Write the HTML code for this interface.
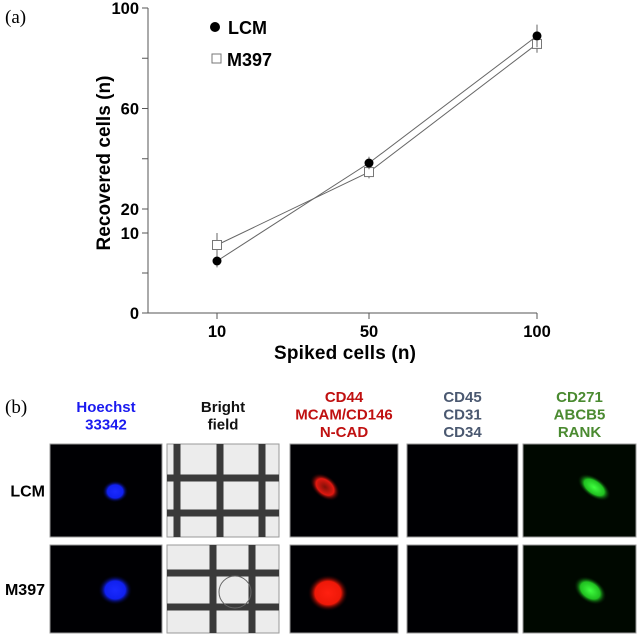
<!DOCTYPE html>
<html><head><meta charset="utf-8"><style>
body{margin:0;background:#fff;width:640px;height:636px;overflow:hidden}
svg{display:block}
.t{font-family:"Liberation Sans",sans-serif;font-weight:bold}
</style></head><body>
<svg id="fig" width="640" height="636" xmlns="http://www.w3.org/2000/svg">
<defs>
<radialGradient id="gb"><stop offset="0" stop-color="#1a2aff"/><stop offset="0.6" stop-color="#1020ee"/><stop offset="1" stop-color="#000010" stop-opacity="0"/></radialGradient>
<radialGradient id="gr"><stop offset="0" stop-color="#ff2010"/><stop offset="0.65" stop-color="#ee1808"/><stop offset="1" stop-color="#200000" stop-opacity="0"/></radialGradient>
<radialGradient id="gr2"><stop offset="0" stop-color="#801008"/><stop offset="0.6" stop-color="#e01810"/><stop offset="1" stop-color="#200000" stop-opacity="0"/></radialGradient>
<radialGradient id="gg"><stop offset="0" stop-color="#40ff40"/><stop offset="0.6" stop-color="#20c020"/><stop offset="1" stop-color="#001000" stop-opacity="0"/></radialGradient>
</defs>
<text x="5" y="23" font-family="Liberation Serif,serif" font-size="19">(a)</text>
<g id="chart"></g>
<text x="5" y="413" font-family="Liberation Serif,serif" font-size="19">(b)</text>
<g id="micro"></g>
</svg>
<script>
const categories=[10,50,100];
const lcmValues=[6.5,38.3,88.9];
const lcmErr=[0.8,2.5,4.5];
const m397Values=[8.5,34.7,85.7];
const m397Err=[1.5,2.5,3.5];
const yTickLabels=[0,10,20,60,100];
const yMinorTicks=[5,40,80];
const NS="http://www.w3.org/2000/svg";
const chart=document.getElementById('chart');
function mk(tag,attrs,parent){const e=document.createElementNS(NS,tag);for(const k in attrs)e.setAttribute(k,attrs[k]);(parent||chart).appendChild(e);return e;}
const xPos=[217,369,537];
function xScale(c){return xPos[categories.indexOf(c)];}
function yScale(v){if(v<=10)return 313-v*8;return 209-(v-20)*(201/80);}
const axis="#555";
let l=mk('line',{x1:148,y1:8,x2:148,y2:313,stroke:axis,'stroke-width':1});


l=mk('line',{x1:148,y1:313,x2:537,y2:313,stroke:axis,'stroke-width':1});


yTickLabels.forEach(v=>{const y=yScale(v);
 mk('line',{x1:142,y1:y,x2:148,y2:y,stroke:axis});
 const t=mk('text',{x:139,y:y+6,'text-anchor':'end','font-size':16.5,class:'t'});t.textContent=v;
 
 });
yMinorTicks.forEach(v=>{const y=yScale(v);mk('line',{x1:142,y1:y,x2:148,y2:y,stroke:axis});});
categories.forEach(c=>{const x=xScale(c);
 mk('line',{x1:x,y1:313,x2:x,y2:319,stroke:axis});
 const t=mk('text',{x:x,y:337,'text-anchor':'middle','font-size':16.5,class:'t'});t.textContent=c;
 
 });
let tt=mk('text',{x:0,y:0,'text-anchor':'middle','font-size':19,class:'t',transform:'translate(110,163) rotate(-90)',textLength:175});tt.textContent='Recovered cells (n)';


tt=mk('text',{x:345,y:359,'text-anchor':'middle','font-size':19,class:'t',textLength:142});tt.textContent='Spiked cells (n)';


function series(vals,errs,name,filled){
 const pts=categories.map((c,i)=>xScale(c)+','+yScale(vals[i])).join(' ');
 const p=mk('polyline',{points:pts,fill:'none',stroke:'#666','stroke-width':1});
 
 
 categories.forEach((c,i)=>{const x=xScale(c);
  mk('line',{x1:x,y1:yScale(vals[i]-errs[i]),x2:x,y2:yScale(vals[i]+errs[i]),stroke:'#666'});
  let m;
  if(filled)m=mk('circle',{cx:x,cy:yScale(vals[i]),r:4.5,fill:'#000'});
  else m=mk('rect',{x:x-4.5,y:yScale(vals[i])-4.5,width:9,height:9,fill:'#fff',stroke:'#777'});
  
  });
}
series(m397Values,m397Err,'m397',false);
series(lcmValues,lcmErr,'lcm',true);
let lg=mk('circle',{cx:215,cy:27,r:5,fill:'#000'});


lg=mk('text',{x:228,y:34,'font-size':18,class:'t'});lg.textContent='LCM';


lg=mk('rect',{x:212,y:54,width:9,height:9,fill:'#fff',stroke:'#777'});


lg=mk('text',{x:227,y:66,'font-size':18,class:'t'});lg.textContent='M397';



const micro=document.getElementById('micro');
const cols=[[50,162],[167,279],[290,398],[407,518],[523,636]];
const rows=[[444,537],[545,633]];
const headers=[[['Hoechst','33342'],'#1a1af0',412],[['Bright','field'],'#111',412],[['CD44','MCAM/CD146','N-CAD'],'#c01010',402],[['CD45','CD31','CD34'],'#4a5870',402],[['CD271','ABCB5','RANK'],'#4a8a30',402]];
headers.forEach((h,i)=>{const cx=(cols[i][0]+cols[i][1])/2;
 h[0].forEach((s,j)=>{const t=mk('text',{x:cx,y:h[2]+j*17.5,'text-anchor':'middle','font-size':15,fill:h[1],class:'t'},micro);t.textContent=s;
 
 });});
['LCM','M397'].forEach((s,r)=>{const t=mk('text',{x:45,y:(rows[r][0]+rows[r][1])/2+6,'text-anchor':'end','font-size':16,class:'t'},micro);t.textContent=s;
 
 });
rows.forEach((rw,r)=>cols.forEach((c,i)=>{
 const w=c[1]-c[0],h=rw[1]-rw[0];
 const bg=mk('rect',{x:c[0],y:rw[0],width:w,height:h,fill:i==1?'#ececec':(i==4?'#000800':'#000003'),stroke:'#999','stroke-width':1},micro);
 
 
 const cx=c[0]+w*0.6,cy=rw[0]+h*0.5;
 if(i==0)mk('ellipse',{cx:cx-2,cy:cy+1,rx:r?17:13,ry:r?15:11,fill:'url(#gb)'},micro);
 if(i==1){const xs=r?[46,85]:[10,53,95],ys=r?[28,62]:[34,69];
  xs.forEach(x=>mk('rect',{x:c[0]+x-3.5,y:rw[0],width:7,height:h,fill:'#3a3a3a'},micro));
  ys.forEach(y=>mk('rect',{x:c[0],y:rw[0]+y-3.5,width:w,height:7,fill:'#3a3a3a'},micro));
  if(r)mk('circle',{cx:c[0]+68,cy:rw[0]+47,r:16,fill:'none',stroke:'#666'},micro);}
 if(i==2)mk('ellipse',{cx:c[0]+(r?38:35),cy:rw[0]+(r?48:43),rx:r?20:17,ry:r?18:11,fill:r?'url(#gr)':'url(#gr2)',transform:r?'':`rotate(40 ${c[0]+35} ${rw[0]+43})`},micro);
 if(i==4)mk('ellipse',{cx:c[0]+(r?68:70),cy:rw[0]+(r?47:43),rx:r?18:19,ry:r?12:10,fill:'url(#gg)',transform:`rotate(35 ${c[0]+70} ${rw[0]+45})`},micro);
}));
</script>
</body></html>
